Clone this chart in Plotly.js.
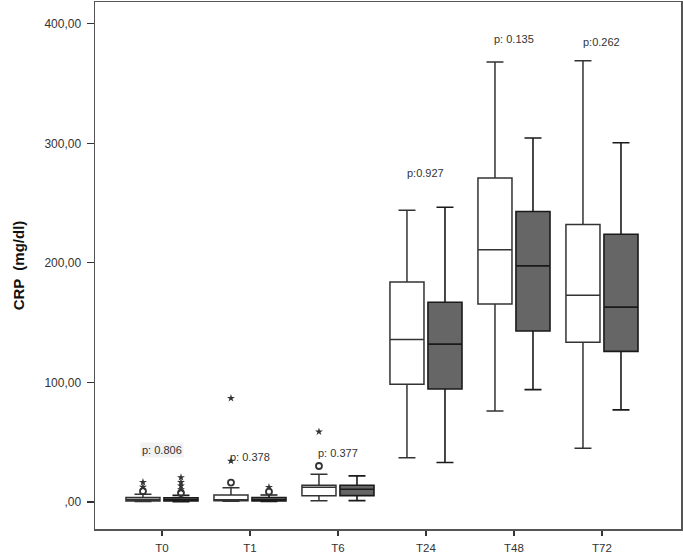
<!DOCTYPE html>
<html>
<head>
<meta charset="utf-8">
<script src="https://cdn.plot.ly/plotly-3.0.1.min.js"></script>
<style>html,body{margin:0;padding:0;background:#fff;}#chart{width:683px;height:557px;}</style>
</head>
<body>
<div id="chart"></div>
<script>
// Categories (time points)
var categories = ['T0', 'T1', 'T6', 'T24', 'T48', 'T72'];

// Group A (white boxes)
var lowA = [0.3, 0.6, 1.1, 37, 76, 45];
var q1A  = [0.9, 1.0, 5.3, 98.5, 165.7, 133.6];
var medA = [2.0, 1.6, 12.3, 136, 211, 173];
var q3A  = [3.8, 5.9, 14.0, 184, 271, 232];
var upA  = [6.5, 12.0, 23.2, 244, 368, 369];

// Group B (dark boxes)
var lowB = [0.3, 0.4, 1.1, 33, 94, 77];
var q1B  = [0.9, 0.8, 5.3, 94.5, 143, 126];
var medB = [1.8, 1.8, 10.6, 132, 197.5, 163];
var q3B  = [3.5, 3.8, 14.0, 167, 243, 224];
var upB  = [5.5, 5.9, 21.8, 246.5, 304.5, 300.5];

// Outliers (circles) and extremes (stars)
var circA_x = ['T0', 'T1', 'T6'];
var circA_y = [9.0, 16.2, 30.1];
var starA_x = ['T0', 'T0', 'T1', 'T1', 'T6'];
var starA_y = [12.5, 16.5, 34.3, 86.8, 58.8];
var circB_x = ['T0', 'T1'];
var circB_y = [7.5, 8.6];
var starB_x = ['T0', 'T0', 'T0', 'T0', 'T1'];
var starB_y = [10.5, 13.5, 16.5, 20.5, 12.3];

// p-values
var pLabels = ['p: 0.806', 'p: 0.378', 'p: 0.377', 'p:0.927', 'p: 0.135', 'p:0.262'];
var pY = [43.5, 37.4, 41.3, 274.9, 387.4, 384.4];

// Y ticks
var yTickVals = [0, 100, 200, 300, 400];
var yTickText = [',00', '100,00', '200,00', '300,00', '400,00'];

var lineCol = '#333333';
var fam = 'Liberation Sans, Arial, sans-serif';

var traces = [
  {type: 'box', x: categories, q1: q1A, median: medA, q3: q3A, lowerfence: lowA, upperfence: upA,
   boxpoints: false, offsetgroup: 'A', fillcolor: '#ffffff', whiskerwidth: 0.5,
   line: {color: lineCol, width: 1.5}, showlegend: false, hoverinfo: 'skip'},
  {type: 'box', x: categories, q1: q1B, median: medB, q3: q3B, lowerfence: lowB, upperfence: upB,
   boxpoints: false, offsetgroup: 'B', fillcolor: '#666666', whiskerwidth: 0.5,
   line: {color: '#1a1a1a', width: 1.6}, showlegend: false, hoverinfo: 'skip'},
  {type: 'scatter', mode: 'markers', x: circA_x, y: circA_y, offsetgroup: 'A',
   marker: {symbol: 'circle-open', size: 6, color: lineCol, line: {width: 1.8, color: lineCol}}, showlegend: false},
  {type: 'scatter', mode: 'markers', x: starA_x, y: starA_y, offsetgroup: 'A',
   marker: {symbol: 'star', size: 6, color: lineCol}, showlegend: false},
  {type: 'scatter', mode: 'markers', x: circB_x, y: circB_y, offsetgroup: 'B',
   marker: {symbol: 'circle-open', size: 6, color: lineCol, line: {width: 1.8, color: lineCol}}, showlegend: false},
  {type: 'scatter', mode: 'markers', x: starB_x, y: starB_y, offsetgroup: 'B',
   marker: {symbol: 'star', size: 6, color: lineCol}, showlegend: false}
];

var annotations = categories.map(function (c, i) {
  return {x: c, y: pY[i], xref: 'x', yref: 'y', text: pLabels[i], showarrow: false,
          font: {family: fam, size: 11, color: '#333'},
          bgcolor: i === 0 ? '#f2f2f2' : 'rgba(0,0,0,0)'};
});

var layout = {
  width: 683, height: 557,
  margin: {l: 95, r: 2, t: 2, b: 28},
  paper_bgcolor: '#ffffff', plot_bgcolor: '#ffffff',
  boxmode: 'group', boxgap: 0.136, boxgroupgap: 0.105,
  scattermode: 'group', scattergap: 0.136,
  showlegend: false,
  font: {family: fam, size: 12, color: '#333'},
  xaxis: {
    type: 'category', categoryorder: 'array', categoryarray: categories,
    range: [-0.761, 5.898], showgrid: false, zeroline: false,
    showline: true, mirror: true, linecolor: '#555', linewidth: 1.5,
    ticks: 'outside', ticklen: 5, tickcolor: '#333', tickwidth: 1.2,
    ticklabelstandoff: 3,
    tickfont: {family: fam, size: 11.5, color: '#333'}
  },
  yaxis: {
    range: [-22.6, 418.2], showgrid: false, zeroline: false,
    showline: true, mirror: true, linecolor: '#555', linewidth: 1.5,
    ticks: 'outside', ticklen: 7, tickcolor: '#333', tickwidth: 1.2,
    tickmode: 'array', tickvals: yTickVals, ticktext: yTickText,
    ticklabelstandoff: 3,
    tickfont: {family: fam, size: 12, color: '#333'},
    title: {text: 'CRP  (mg/dl)', standoff: 16,
            font: {family: fam, size: 15, color: '#111', weight: 'bold'}}
  },
  annotations: annotations
};

Plotly.newPlot('chart', traces, layout, {staticPlot: true, displayModeBar: false});
</script>
</body>
</html>
